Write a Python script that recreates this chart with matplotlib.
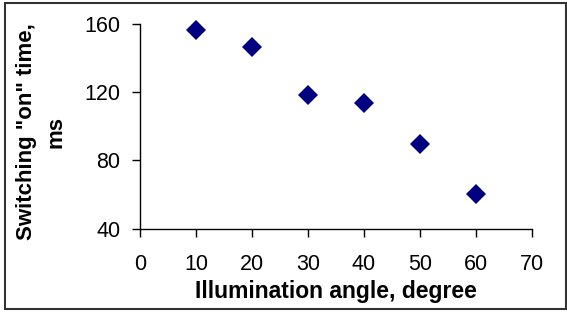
import matplotlib
matplotlib.use("Agg")
import matplotlib.pyplot as plt
from matplotlib.patches import Rectangle

angle = [10, 20, 30, 40, 50, 60]
on_time = [156.3, 146.5, 118.4, 113.6, 89.4, 60.5]
xticks = [0, 10, 20, 30, 40, 50, 60, 70]
yticks = [40, 80, 120, 160]

plt.rcParams['font.family'] = ['Liberation Sans', 'DejaVu Sans']
W, H = 567, 312
fig = plt.figure(figsize=(W/100, H/100), dpi=100)
ax = fig.add_axes([140/W, 1-228.7/H, (531.7-140)/W, (228.7-23.7)/H])
ax.plot(angle, on_time, linestyle='none', marker='D', markersize=10,
        color='#000080', markeredgewidth=0, zorder=3, clip_on=False)
ax.set_xlim(0, 70)
ax.set_ylim(40, 160)
ax.set_xticks(xticks)
ax.set_yticks(yticks)
for s in ['top', 'right']:
    ax.spines[s].set_visible(False)
for s in ['left', 'bottom']:
    ax.spines[s].set_linewidth(1.0)
ax.tick_params(direction='out', length=6, width=1, labelsize=15.5)
ax.tick_params(axis='x', pad=12.5)
ax.tick_params(axis='y', pad=8)
ax.set_xlabel('Illumination angle, degree', fontsize=16.5, fontweight='bold')
ax.xaxis.label.set(va='baseline', ha='center')
ax.xaxis.set_label_coords(0.5, -0.3395)
ax.set_ylabel('Switching "on" time,\nms', fontsize=16, fontweight='bold', linespacing=1.55)
ax.yaxis.label.set(va='center', ha='center', rotation_mode='default')
ax.yaxis.set_label_coords(-0.252, 0.474)
fig.patches.append(Rectangle((5/W, 3/H), (565.5-5)/W, (309-3)/H, transform=fig.transFigure,
                             fill=False, edgecolor='#333333', linewidth=1.5))
fig.savefig('out.png', dpi=100)
